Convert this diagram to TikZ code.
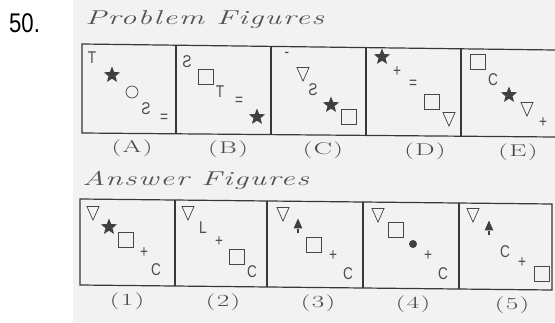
\documentclass[tikz,border=0pt]{standalone}
\usepackage{fontspec}
\usetikzlibrary{shapes.geometric}
\newfontfamily\numfont{Liberation Sans}
\newfontfamily\symfont{Liberation Sans}
\newfontfamily\headfont{Latin Modern Roman}[LetterSpace=5]
\tikzset{
  frame/.style={draw=black!78, line width=1.2pt},
  sq/.style={rectangle, draw=black!72, line width=0.7pt, minimum size=15pt, inner sep=0pt},
  tri/.style={regular polygon, regular polygon sides=3, shape border rotate=180, draw=black!72, line width=0.7pt, minimum size=14pt, inner sep=0pt, yscale=1.3},
  utri/.style={regular polygon, regular polygon sides=3, fill=black!75, minimum size=10pt, inner sep=0pt, yscale=1.3},
  st/.style={star, star points=5, star point ratio=2.3, fill=black!75, minimum size=17pt, inner sep=0pt},
  circ/.style={circle, draw=black!72, line width=0.7pt, minimum size=12pt, inner sep=0pt},
  dot/.style={circle, fill=black!75, minimum size=8pt, inner sep=0pt},
  sym/.style={font=\symfont\fontsize{17}{17}\selectfont, text=black!70, inner sep=0pt, xscale=0.8},
  rs/.style={sym, xscale=-1},
  lab/.style={font=\headfont\fontsize{17}{17}\selectfont, text=black!72, inner sep=0pt, xscale=1.6},
  head/.style={font=\headfont\itshape\fontsize{20}{20}\selectfont, text=black!68, anchor=west, inner sep=0pt, xscale=1.57}
}
\begin{document}
\begin{tikzpicture}[x=1pt, y=-1pt]
\useasboundingbox (0,0) rectangle (555,322);
\fill[black!5] (73,0) rectangle (555,322);
\node[font=\numfont\fontsize{27}{27}\selectfont, anchor=west, inner sep=0pt, xscale=0.82] (num) at (9,23) {50.};
\node[head] (ph) at (85,20) {Problem Figures};
\node[head] (ah) at (82,180) {Answer Figures};
% problem frames (slightly tilted scan)
\draw[frame] (555,50) -- (82,44) -- (82,133) -- (555,137);
\draw[frame] (176,45) -- (176,134);
\draw[frame] (271,46) -- (271,135);
\draw[frame] (366,47) -- (366,135);
\draw[frame] (461,48) -- (461,136);
% answer frames
\draw[frame] (80,199) -- (552,204) -- (552,290) -- (80,285) -- cycle;
\draw[frame] (175,200) -- (175,286);
\draw[frame] (267,201) -- (267,287);
\draw[frame] (363,202) -- (363,288);
\draw[frame] (459,203) -- (459,289);
% labels
\node[lab] (lA) at (132,148) {(A)};
\node[lab] (lB) at (228,149) {(B)};
\node[lab] (lC) at (323,150) {(C)};
\node[lab] (lD) at (425,151) {(D)};
\node[lab] (lE) at (518,152) {(E)};
\node[lab] (l1) at (127,301) {(1)};
\node[lab] (l2) at (223,302) {(2)};
\node[lab] (l3) at (318,303) {(3)};
\node[lab] (l4) at (413,304) {(4)};
\node[lab] (l5) at (512,305) {(5)};
% A
\node[sym] (aT) at (92,58) {T};
\node[st] (aSt) at (112,75) {};
\node[circ] (aC) at (132,92) {};
\node[rs] (aS) at (146,109) {S};
\node[sym] (aE) at (164,118) {=};
% B
\node[rs] (bS) at (187,62) {S};
\node[sq] (bSq) at (206,77) {};
\node[sym] (bT) at (220,92) {T};
\node[sym] (bE) at (239,101) {=};
\node[st] (bSt) at (257,117) {};
% C
\node[sym] (cE) at (287,55) {-};
\node[tri] (cTr) at (303,72) {};
\node[rs] (cS) at (313,90) {S};
\node[st] (cSt) at (331,105) {};
\node[sq] (cSq) at (349,117) {};
% D
\node[st] (dSt) at (382,57) {};
\node[sym] (dP) at (397,72) {+};
\node[sym] (dE) at (413,84) {=};
\node[sq] (dSq) at (432,102) {};
\node[tri] (dTr) at (449,117) {};
% E
\node[sq] (eSq) at (478,62) {};
\node[sym] (eC) at (493,80) {C};
\node[st] (eSt) at (509,95) {};
\node[tri] (eTr) at (527,107) {};
\node[sym] (eP) at (543,123) {+};
% 1
\node[tri] (oTr) at (93,211) {};
\node[st] (oSt) at (109,227) {};
\node[sq] (oSq) at (126,240) {};
\node[sym] (oP) at (144,253) {+};
\node[sym] (oC) at (156,270) {C};
% 2
\node[tri] (tTr) at (188,211) {};
\node[sym] (tL) at (203,228) {L};
\node[sym] (tP) at (219,242) {+};
\node[sq] (tSq) at (237,257) {};
\node[sym] (tC) at (252,272) {C};
% 3
\node[tri] (hTr) at (283,212) {};
\node[utri] (hU) at (298,225) {};
\draw[black!75, line width=1.3pt] (hU.south) -- ++(0,4);
\node[sq] (hSq) at (314,245) {};
\node[sym] (hP) at (333,256) {+};
\node[sym] (hC) at (348,274) {C};
% 4
\node[tri] (fTr) at (378,213) {};
\node[sq] (fSq) at (396,230) {};
\node[dot] (fD) at (413,244) {};
\node[sym] (fP) at (428,256) {+};
\node[sym] (fC) at (443,274) {C};
% 5
\node[tri] (vTr) at (473,213) {};
\node[utri] (vU) at (489,227) {};
\draw[black!75, line width=1.3pt] (vU.south) -- ++(0,4);
\node[sym] (vC) at (505,252) {C};
\node[sym] (vP) at (522,263) {+};
\node[sq] (vSq) at (542,274) {};
\end{tikzpicture}
\end{document}
